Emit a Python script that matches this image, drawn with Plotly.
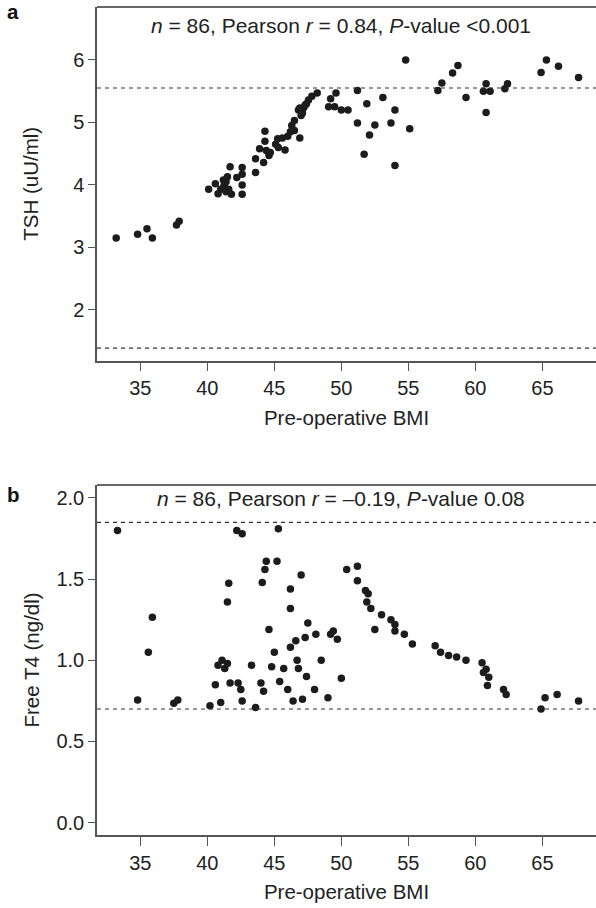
import plotly.graph_objects as go

# ---- Panel a: TSH vs pre-operative BMI ----
bmi_a = [33.2, 34.8, 35.5, 35.9, 37.7, 37.9, 40.1, 40.6, 40.8, 41.0,
         41.25, 41.4, 41.5, 41.7, 41.4, 41.6, 41.8, 42.2, 42.6, 42.6,
         42.6, 42.6, 43.6, 43.6, 44.2, 44.3, 44.3, 44.4, 44.6, 44.7,
         45.1, 45.25, 45.6, 45.8, 46.2, 46.3, 46.5, 46.5, 46.9, 46.8,
         47.0, 47.2, 46.9, 47.3, 47.55, 47.8, 48.2, 49.05, 49.2, 49.5,
         49.6, 50.0, 50.5, 51.2, 51.2, 51.9, 51.7, 52.1, 52.5, 53.1,
         53.7, 54.0, 54.0, 54.8, 55.1, 57.2, 57.5, 58.3, 58.7, 59.3,
         60.6, 60.8, 61.1, 60.8, 62.2, 62.4, 64.9, 65.3, 66.2, 67.7,
         46.0, 47.1, 43.9, 45.3, 41.2, 47.4]
tsh = [3.15, 3.21, 3.30, 3.15, 3.36, 3.42, 3.93, 4.02, 3.86, 3.93,
       3.99, 4.05, 4.13, 4.29, 3.89, 3.93, 3.85, 4.12, 4.28, 4.17,
       4.00, 3.85, 4.20, 4.42, 4.36, 4.86, 4.70, 4.55, 4.47, 4.52,
       4.65, 4.74, 4.75, 4.56, 4.85, 4.95, 5.03, 4.87, 4.75, 5.20,
       5.11, 5.24, 5.23, 5.28, 5.36, 5.42, 5.47, 5.25, 5.38, 5.25,
       5.47, 5.20, 5.20, 5.51, 4.99, 5.30, 4.49, 4.80, 4.96, 5.40,
       4.99, 5.20, 4.31, 6.00, 4.90, 5.51, 5.63, 5.79, 5.91, 5.40,
       5.50, 5.62, 5.50, 5.16, 5.54, 5.62, 5.80, 6.00, 5.90, 5.72,
       4.78, 5.15, 4.58, 4.60, 4.08, 5.30]
tsh_range = [1.39, 5.55]

# ---- Panel b: Free T4 vs pre-operative BMI ----
bmi_b = [33.3, 35.9, 41.6, 41.5, 42.2, 42.6, 44.1, 44.3, 44.4, 45.2,
         45.3, 46.2, 46.2, 47.0,
         50.4, 51.2, 51.2, 51.8, 52.0, 51.9, 52.2, 53.0, 53.7, 54.0,
         54.0, 54.7, 52.5, 47.5, 48.1, 49.2, 49.7, 47.3, 46.6,
         60.5, 60.8, 60.6, 61.0, 60.9, 62.1, 62.3, 64.9, 65.2, 66.1, 67.7,
         35.6, 34.8, 37.5, 37.8,
         40.2, 40.6, 40.8, 41.0, 41.1, 41.3, 41.5, 41.7, 42.3, 42.5,
         42.6, 43.3, 43.6, 44.0, 44.2, 44.6, 44.8, 45.0, 45.4, 45.7,
         46.0, 46.2, 46.4, 46.7, 46.8, 47.1, 47.4, 48.0, 48.5,
         49.0, 49.4, 50.0, 55.3, 57.0, 57.4, 58.0, 58.6, 59.3]
ft4 = [1.80, 1.265, 1.475, 1.36, 1.80, 1.78, 1.48, 1.56, 1.61, 1.61,
       1.81, 1.44, 1.32, 1.525,
       1.56, 1.58, 1.49, 1.43, 1.41, 1.36, 1.32, 1.28, 1.25, 1.22,
       1.18, 1.16, 1.19, 1.23, 1.16, 1.16, 1.13, 1.14, 1.12,
       0.985, 0.945, 0.925, 0.895, 0.845, 0.82, 0.79, 0.70, 0.77, 0.79, 0.75,
       1.05, 0.755, 0.735, 0.755,
       0.72, 0.85, 0.97, 0.74, 1.00, 0.95, 0.98, 0.86, 0.86, 0.82,
       0.75, 0.97, 0.71, 0.86, 0.81, 1.19, 0.96, 1.05, 0.87, 0.95,
       0.82, 1.08, 0.75, 1.00, 0.95, 0.76, 0.90, 0.82, 1.00,
       0.77, 1.18, 0.89, 1.10, 1.09, 1.05, 1.03, 1.02, 1.00]
ft4_range = [0.70, 1.85]

x_ticks = [35, 40, 45, 50, 55, 60, 65]
tsh_ticks = [2, 3, 4, 5, 6]
ft4_ticks = [0.0, 0.5, 1.0, 1.5, 2.0]
ft4_ticktext = ["0.0", "0.5", "1.0", "1.5", "2.0"]

FONT = "Liberation Sans, Arial, sans-serif"
TXT = "#222222"
AX = "#555555"
DOT = "#1c1c1c"
FS_TICK = 20
FS_TXT = 20.5
FS_NOTE = 21

fig = go.Figure()
fig.add_trace(go.Scatter(x=bmi_a, y=tsh, mode="markers", xaxis="x", yaxis="y",
                         marker=dict(color=DOT, size=7.5, line=dict(width=0)),
                         showlegend=False))
fig.add_trace(go.Scatter(x=bmi_b, y=ft4, mode="markers", xaxis="x2", yaxis="y2",
                         marker=dict(color=DOT, size=7.5, line=dict(width=0)),
                         showlegend=False))

xr = [31.77, 69.0]
common_x = dict(range=xr, tickvals=x_ticks, showline=True, linecolor=AX, linewidth=1.5,
                ticks="outside", ticklen=9, tickwidth=1.2, tickcolor=AX,
                showgrid=False, zeroline=False,
                tickfont=dict(family=FONT, size=FS_TICK, color=TXT),
                title=dict(text="Pre-operative BMI", font=dict(family=FONT, size=FS_TXT, color=TXT),
                           standoff=12))
common_y = dict(showline=True, linecolor=AX, linewidth=1.5, ticks="outside", ticklen=7,
                tickwidth=1.2, tickcolor=AX, showgrid=False, zeroline=False,
                tickfont=dict(family=FONT, size=FS_TICK, color=TXT))

fig.update_layout(
    width=596, height=908,
    margin=dict(l=97, r=0, t=7, b=73, autoexpand=False),
    paper_bgcolor="white", plot_bgcolor="white",
    xaxis=dict(domain=[0, 1], anchor="y", **common_x),
    yaxis=dict(domain=[0.5728, 1.0], anchor="x", range=[1.188, 6.846], tickvals=tsh_ticks,
               title=dict(text="TSH (uU/ml)", font=dict(family=FONT, size=FS_TXT, color=TXT), standoff=29),
               **common_y),
    xaxis2=dict(domain=[0, 1], anchor="y2", **common_x),
    yaxis2=dict(domain=[0.0, 0.4227], anchor="x2", range=[-0.076, 2.08], tickvals=ft4_ticks,
                ticktext=ft4_ticktext,
                title=dict(text="Free T4 (ng/dl)", font=dict(family=FONT, size=FS_TXT, color=TXT), standoff=11),
                **common_y),
)

# reference range dashed lines
for v in tsh_range:
    fig.add_shape(type="line", xref="x domain", yref="y", x0=0, x1=1, y0=v, y1=v,
                  line=dict(color="#333333", width=1.2, dash="4px,4px"))
for v in ft4_range:
    fig.add_shape(type="line", xref="x2 domain", yref="y2", x0=0, x1=1, y0=v, y1=v,
                  line=dict(color="#333333", width=1.2, dash="4px,4px"))
# top frame lines
fig.add_shape(type="line", xref="x domain", yref="y domain", x0=0, x1=1, y0=1, y1=1,
              line=dict(color="#333333", width=1.5))
fig.add_shape(type="line", xref="x2 domain", yref="y2 domain", x0=0, x1=1, y0=1, y1=1,
              line=dict(color="#333333", width=1.5))

fig.add_annotation(text="<i>n</i> = 86, Pearson <i>r</i> = 0.84, <i>P</i>-value &lt;0.001",
                   xref="x", yref="paper", x=50, y=0.978, showarrow=False,
                   xanchor="center", yanchor="middle",
                   font=dict(family=FONT, size=FS_NOTE, color=TXT))
fig.add_annotation(text="<i>n</i> = 86, Pearson <i>r</i> = –0.19, <i>P</i>-value 0.08",
                   xref="x2", yref="paper", x=50, y=0.4058, showarrow=False,
                   xanchor="center", yanchor="middle",
                   font=dict(family=FONT, size=FS_NOTE, color=TXT))
fig.add_annotation(text="<b>a</b>", xref="paper", yref="paper", x=-0.168, y=0.994,
                   showarrow=False, xanchor="center", yanchor="middle",
                   font=dict(family=FONT, size=FS_TXT, color="#111111"))
fig.add_annotation(text="<b>b</b>", xref="paper", yref="paper", x=-0.168, y=0.4118,
                   showarrow=False, xanchor="center", yanchor="middle",
                   font=dict(family=FONT, size=FS_TXT, color="#111111"))

# remove the default 8px page margin so the figure sits at the window's corner
fig.write_html("out.html",
               config={"displayModeBar": False},
               post_script="document.body.style.margin='0';document.body.style.overflow='hidden';")
